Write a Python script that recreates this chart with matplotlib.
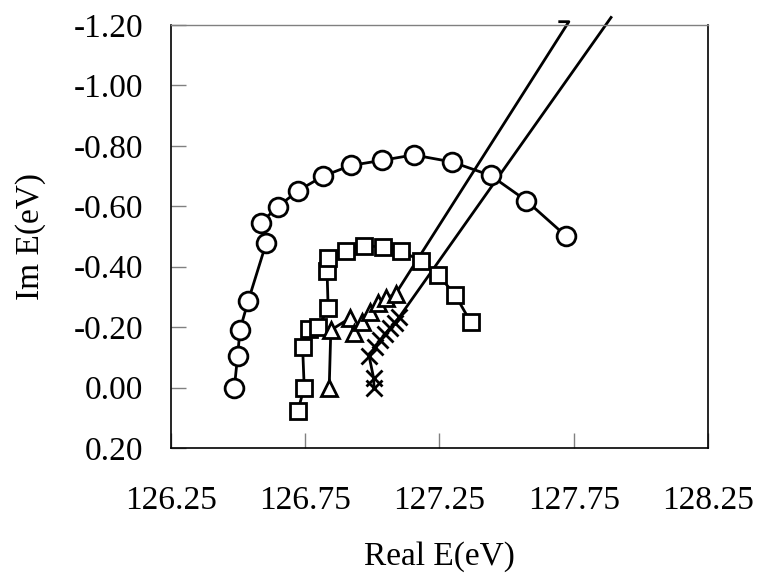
import matplotlib
matplotlib.use("Agg")
import matplotlib.pyplot as plt
from matplotlib.ticker import FormatStrFormatter

plt.rcParams["font.family"] = ["Liberation Serif", "DejaVu Serif"]
plt.rcParams["axes.unicode_minus"] = False

# circles
circ_re = [126.487, 126.499, 126.508, 126.539, 126.605, 126.585, 126.648, 126.725,
           126.818, 126.920, 127.036, 127.154, 127.296, 127.441, 127.573, 127.722]
circ_im = [0.00, -0.104, -0.192, -0.288, -0.477, -0.545, -0.598, -0.652,
           -0.700, -0.735, -0.752, -0.770, -0.747, -0.702, -0.619, -0.501]

# squares
sq_re = [126.723, 126.747, 126.741, 126.763, 126.800, 126.836, 126.832, 126.836,
         126.901, 126.969, 127.040, 127.107, 127.180, 127.246, 127.308, 127.367]
sq_im = [0.078, 0.00, -0.134, -0.195, -0.200, -0.264, -0.385, -0.429,
         -0.453, -0.470, -0.465, -0.452, -0.420, -0.372, -0.308, -0.216]

# triangles
tri_re = [126.840, 126.846, 126.919, 126.931, 126.962, 126.991, 127.021, 127.050, 127.087]
tri_im = [0.00, -0.190, -0.231, -0.180, -0.217, -0.251, -0.280, -0.296, -0.310]

# crosses
x_re = [127.007, 127.005, 126.988, 127.011, 127.029, 127.048, 127.066, 127.085, 127.100]
x_im = [0.00, -0.033, -0.106, -0.134, -0.156, -0.177, -0.197, -0.215, -0.232]

# straight lines (no markers)
line1_re = [127.087, 127.732, 127.698]
line1_im = [-0.310, -1.211, -1.211]
line2_re = [127.100, 127.889]
line2_im = [-0.232, -1.225]

fig = plt.figure(figsize=(7.61, 5.80), dpi=100)
ax = fig.add_axes([0.2243, 0.2276, 0.7061, 0.7293])

kw = dict(color="black", lw=2.0, mfc="white", mec="black", mew=2.0, clip_on=False)
ax.plot(line1_re, line1_im, color="black", lw=2.0, clip_on=False)
ax.plot(line2_re, line2_im, color="black", lw=2.0, clip_on=False)
ax.plot(circ_re, circ_im, marker="o", ms=13.5, **kw)
ax.plot(sq_re, sq_im, marker="s", ms=11, **kw)
ax.plot(tri_re, tri_im, marker="^", ms=11.5, **kw)
ax.plot(x_re, x_im, marker="x", ms=11.5, color="black", lw=2.0, mew=2.0, clip_on=False)

ax.set_xlim(126.25, 128.25)
ax.set_ylim(0.20, -1.20)
ax.set_xticks([126.25, 126.75, 127.25, 127.75, 128.25])
ax.set_yticks([0.20, 0.00, -0.20, -0.40, -0.60, -0.80, -1.00, -1.20])
ax.xaxis.set_major_formatter(FormatStrFormatter("%.2f"))
ax.yaxis.set_major_formatter(FormatStrFormatter("%.2f"))

ax.tick_params(axis="x", direction="in", length=11, width=1, color="#808080",
               labelsize=24, pad=27)
ax.tick_params(axis="y", direction="in", length=11, width=1, color="#808080",
               labelsize=24, pad=20)

for side in ["left", "bottom", "right"]:
    ax.spines[side].set_color("black")
    ax.spines[side].set_linewidth(1.2)
ax.spines["top"].set_color("#808080")
ax.spines["top"].set_linewidth(1.0)

ax.set_xlabel("Real E(eV)", fontsize=24, labelpad=18)
ax.set_ylabel("Im E(eV)", fontsize=24, labelpad=20)

fig.savefig("out.png", dpi=100)
